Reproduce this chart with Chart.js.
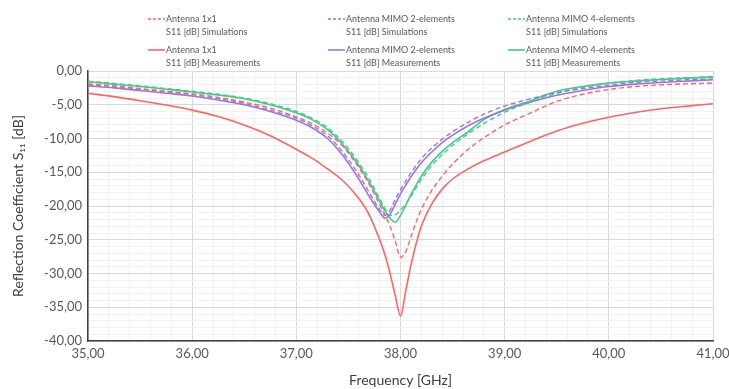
<!DOCTYPE html>
<html>
<head>
<meta charset="utf-8">
<script src="https://cdn.jsdelivr.net/npm/chart.js@4/dist/chart.umd.min.js"></script>
<style>
html,body{margin:0;padding:0;background:#fff;}
#wrap{width:729px;height:389px;position:relative;}
</style>
</head>
<body>
<div id="wrap"><canvas id="c" width="729" height="389"></canvas></div>
<script>
const freqs = [35.0, 35.25, 35.5, 35.75, 36.0, 36.25, 36.5, 36.75, 37.0, 37.15, 37.3, 37.45, 37.6, 37.7, 37.8, 37.85, 37.9, 37.95, 38.0, 38.05, 38.1, 38.15, 38.2, 38.3, 38.4, 38.5, 38.65, 38.8, 39.0, 39.25, 39.5, 39.75, 40.0, 40.25, 40.5, 40.75, 41.0];

const redSim    = [-1.9, -2.2, -2.6, -3.0, -3.4, -3.9, -4.6, -5.5, -6.8, -7.8, -9.2, -11.2, -14.3, -16.8, -19.8, -21.3, -23.0, -25.2, -27.6, -26.8, -24.6, -22.4, -20.5, -17.7, -15.6, -13.8, -11.6, -9.9, -8.0, -6.2, -4.5, -3.45, -2.75, -2.3, -2.05, -1.9, -1.8];
const redMeas   = [-3.3, -3.8, -4.4, -5.05, -5.8, -6.75, -8.0, -9.6, -11.6, -12.9, -14.5, -16.3, -18.9, -21.3, -25.0, -27.2, -30.0, -33.3, -36.3, -32.6, -28.8, -25.6, -23.0, -19.7, -17.5, -16.0, -14.5, -13.3, -12.0, -10.4, -8.9, -7.75, -6.85, -6.15, -5.6, -5.2, -4.85];
const mimo2Sim  = [-2.0, -2.3, -2.7, -3.1, -3.5, -4.1, -4.8, -5.8, -7.0, -8.1, -9.6, -12.1, -15.4, -18.0, -20.5, -21.4, -20.6, -19.0, -17.6, -16.3, -15.1, -14.0, -13.0, -11.4, -10.1, -9.0, -7.6, -6.4, -5.2, -4.1, -3.2, -2.6, -2.1, -1.7, -1.5, -1.3, -1.2];
const mimo2Meas = [-2.2, -2.5, -2.9, -3.3, -3.7, -4.3, -5.0, -6.0, -7.3, -8.4, -10.0, -12.6, -16.0, -18.6, -20.9, -21.8, -21.2, -19.7, -18.2, -16.9, -15.7, -14.6, -13.6, -12.0, -10.6, -9.5, -8.1, -7.0, -5.8, -4.6, -3.6, -2.9, -2.3, -1.95, -1.7, -1.5, -1.3];
const mimo4Sim  = [-1.5, -1.85, -2.2, -2.6, -3.0, -3.45, -4.0, -4.85, -6.0, -7.0, -8.4, -10.6, -13.6, -16.0, -18.9, -20.3, -21.4, -21.3, -20.6, -19.7, -18.6, -17.3, -16.1, -14.0, -12.4, -11.0, -9.3, -7.8, -6.1, -4.6, -3.3, -2.4, -1.8, -1.4, -1.15, -1.0, -0.85];
const mimo4Meas = [-1.6, -1.95, -2.3, -2.7, -3.1, -3.55, -4.1, -5.0, -6.2, -7.2, -8.7, -11.0, -14.0, -16.5, -19.3, -20.7, -21.8, -22.4, -21.4, -19.9, -18.3, -16.9, -15.6, -13.5, -11.9, -10.6, -9.0, -7.2, -5.7, -4.4, -3.0, -2.3, -1.8, -1.5, -1.25, -1.05, -0.9];

const seriesNames = [
  ["Antenna 1x1", "S11 [dB] Simulations"],
  ["Antenna MIMO 2-elements", "S11 [dB] Simulations"],
  ["Antenna MIMO 4-elements", "S11 [dB] Simulations"],
  ["Antenna 1x1", "S11 [dB] Measurements"],
  ["Antenna MIMO 2-elements", "S11 [dB] Measurements"],
  ["Antenna MIMO 4-elements", "S11 [dB] Measurements"]
];

const xMin = 35, xMax = 41, yMin = -40, yMax = 0;

const RED = '#ff6464', PURPLE = '#9c76dc', GREEN = '#3dcc8c';

function pts(vals){ return freqs.map((f,i)=>({x:f, y:vals[i]})); }

function ds(idx, vals, color, dashed){
  return {
    label: seriesNames[idx].join(' '),
    legendLines: seriesNames[idx],
    data: pts(vals),
    borderColor: color,
    backgroundColor: color,
    borderWidth: dashed ? 1.4 : 1.6,
    borderDash: dashed ? [5,3] : [],
    pointRadius: 0,
    cubicInterpolationMode: 'monotone',
    fill: false
  };
}

const FONT = "Lato, 'Liberation Sans', sans-serif";

const legendPlugin = {
  id: 'customLegend',
  afterDraw(chart){
    const ctx = chart.ctx;
    const colX = [148, 328, 508];
    const rowY = [19, 50];
    ctx.save();
    ctx.font = "9px " + FONT;
    ctx.textBaseline = 'middle';
    ctx.fillStyle = '#595959';
    chart.data.datasets.forEach((d, i) => {
      const col = i % 3, row = Math.floor(i / 3);
      const x = colX[col], y = rowY[row];
      ctx.beginPath();
      ctx.strokeStyle = d.borderColor;
      ctx.lineWidth = d.borderWidth;
      ctx.setLineDash(d.borderDash.length ? [3,2] : []);
      ctx.moveTo(x, y); ctx.lineTo(x + 17, y);
      ctx.stroke();
      ctx.setLineDash([]);
      ctx.fillText(d.legendLines[0], x + 18, y);
      ctx.fillText(d.legendLines[1], x + 18, y + 13);
    });
    ctx.restore();
  }
};

function isInt(v){ return Math.abs(v - Math.round(v)) < 1e-6; }
function isMult5(v){ return isInt(v) && Math.round(v) % 5 === 0; }
function fmt(v){ return v.toFixed(2).replace('.', ','); }

new Chart(document.getElementById('c'), {
  type: 'line',
  data: {
    datasets: [
      ds(0, redSim, RED, true),
      ds(1, mimo2Sim, PURPLE, true),
      ds(2, mimo4Sim, GREEN, true),
      ds(3, redMeas, RED, false),
      ds(4, mimo2Meas, PURPLE, false),
      ds(5, mimo4Meas, GREEN, false)
    ]
  },
  options: {
    responsive: false,
    animation: false,
    devicePixelRatio: 1,
    layout: { padding: { left: 10, right: 16, top: 71, bottom: 0 } },
    plugins: { legend: { display: false }, tooltip: { enabled: false } },
    scales: {
      x: {
        type: 'linear',
        min: xMin, max: xMax,
        afterFit(s){ s.height = 48; s.paddingRight = 0; s.paddingLeft = 0; },
        afterBuildTicks(s){
          const t = [];
          for (let k = 0; k <= 30; k++) t.push({ value: xMin + k * 0.2 });
          s.ticks = t;
        },
        ticks: {
          autoSkip: false, maxRotation: 0, padding: 5,
          color: '#595959', font: { family: FONT, size: 13 },
          callback: v => isInt(v) ? fmt(v) : ''
        },
        grid: {
          drawTicks: false,
          color: c => isInt(c.tick.value) ? '#d9d9d9' : '#f1f1f1',
          lineWidth: 1
        },
        border: { display: true, color: '#404040', width: 1.5 },
        title: { display: true, text: 'Frequency [GHz]', color: '#404040', font: { family: FONT, size: 14 }, padding: { top: 4, bottom: 0 } }
      },
      y: {
        type: 'linear',
        min: yMin, max: yMax,
        afterFit(s){ s.width = 78; },
        afterBuildTicks(s){
          const t = [];
          for (let k = 0; k <= 40; k++) t.push({ value: yMin + k });
          s.ticks = t;
        },
        ticks: {
          autoSkip: false, padding: 6,
          color: '#595959', font: { family: FONT, size: 13 },
          callback: v => isMult5(v) ? fmt(v) : ''
        },
        grid: {
          drawTicks: false,
          color: c => isMult5(c.tick.value) ? '#d9d9d9' : '#f1f1f1',
          lineWidth: 1
        },
        border: { display: true, color: '#404040', width: 1.5 },
        title: { display: true, text: 'Reflection Coefficient S₁₁ [dB]', color: '#404040', font: { family: FONT, size: 14 }, padding: { top: 0, bottom: 2 } }
      }
    }
  },
  plugins: [legendPlugin]
});
</script>
</body>
</html>
